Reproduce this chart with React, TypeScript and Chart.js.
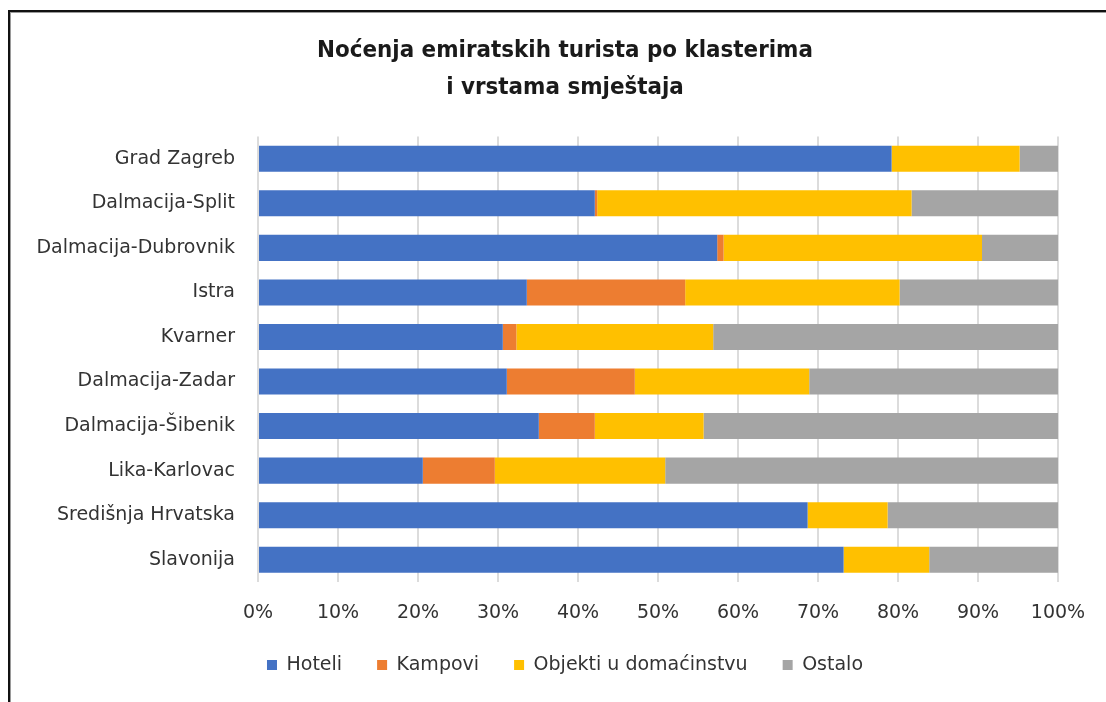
import React, { useEffect, useRef } from 'react';
import { Chart, registerables } from 'chart.js';

Chart.register(...registerables);

const categories = [
  'Grad Zagreb',
  'Dalmacija-Split',
  'Dalmacija-Dubrovnik',
  'Istra',
  'Kvarner',
  'Dalmacija-Zadar',
  'Dalmacija-Šibenik',
  'Lika-Karlovac',
  'Središnja Hrvatska',
  'Slavonija',
];
const hoteli = [79.2, 42.1, 57.4, 33.6, 30.6, 31.1, 35.1, 20.6, 68.7, 73.2];
const kampovi = [0, 0.3, 0.8, 19.8, 1.7, 16.0, 7.0, 9.0, 0, 0];
const objekti = [16.0, 39.3, 32.3, 26.8, 24.6, 21.8, 13.6, 21.3, 10.0, 10.7];
const ostalo = [4.8, 18.3, 9.5, 19.8, 43.1, 31.1, 44.3, 49.1, 21.3, 16.1];
const seriesNames = ['Hoteli', 'Kampovi', 'Objekti u domaćinstvu', 'Ostalo'];
const seriesColors = ['#4472C4', '#ED7D31', '#FFC000', '#A5A5A5'];
const titleLines = ['Noćenja emiratskih turista po klasterima', 'i vrstama smještaja'];
const xTickStep = 10;
const xMin = 0;
const xMax = 100;

function pickFamily(cands: string[], weight: string): string {
  const c = document.createElement('canvas').getContext('2d');
  if (!c) return 'sans-serif';
  const sample = titleLines[0];
  for (const f of cands) {
    c.font = `${weight} 30px monospace`;
    const a = c.measureText(sample).width;
    c.font = `${weight} 30px "${f}", monospace`;
    const b = c.measureText(sample).width;
    if (Math.abs(a - b) > 0.5) return f;
  }
  return 'sans-serif';
}

const framePlugin = {
  id: 'frame',
  beforeDraw(chart: any) {
    const ctx = chart.ctx;
    ctx.save();
    ctx.fillStyle = '#ffffff';
    ctx.fillRect(0, 0, chart.width, chart.height);
    ctx.fillStyle = '#111111';
    ctx.fillRect(8, 10, 2, chart.height - 10);
    ctx.fillRect(8, 10, chart.width - 8, 2);
    ctx.fillStyle = '#9a9a9a';
    ctx.fillRect(10, 12, 1, chart.height - 12);
    ctx.fillRect(10, 12, chart.width - 10, 1);
    ctx.restore();
  },
};

// Centre title and legend on the whole chart frame (like the source) instead of the padded area.
const centerShiftPlugin = {
  id: 'centerShift',
  afterLayout(chart: any) {
    const shift = 60;
    if (chart.titleBlock) chart.titleBlock.left += shift;
    if (chart.legend) chart.legend.left += shift;
  },
};

export default function App() {
  const ref = useRef<HTMLCanvasElement | null>(null);

  useEffect(() => {
    const canvas = ref.current;
    if (!canvas) return;
    const labelFamily = 'DejaVu Sans';
    const titleFamily = pickFamily(['Liberation Sans Narrow', 'DejaVu Sans Condensed'], 'bold');
    const m = document.createElement('canvas').getContext('2d')!;
    m.font = `bold 30px "${titleFamily}"`;
    const w = m.measureText(titleLines[0]).width;
    const titleSize = Math.max(18, Math.min(34, (30 * 496) / w));

    const chart = new Chart(canvas, {
      type: 'bar',
      data: {
        labels: categories,
        datasets: [hoteli, kampovi, objekti, ostalo].map((d, i) => ({
          label: seriesNames[i],
          data: d,
          backgroundColor: seriesColors[i],
          borderWidth: 0,
          barPercentage: 26 / 44.5,
          categoryPercentage: 1,
        })),
      },
      options: {
        indexAxis: 'y',
        responsive: false,
        animation: false,
        devicePixelRatio: 1,
        layout: { padding: { left: 12, right: 48, top: 32, bottom: 17.5 } },
        plugins: {
          title: {
            display: true,
            text: titleLines,
            color: '#1a1a1a',
            font: { family: `"${titleFamily}"`, size: titleSize, weight: 'bold', lineHeight: `${37}px` as any },
            padding: { top: 0, bottom: 30.5 },
          },
          legend: {
            position: 'bottom',
            labels: {
              boxWidth: 10,
              boxHeight: 10,
              padding: 35,
              color: '#333333',
              font: { family: labelFamily, size: 19 },
            },
          },
          tooltip: { enabled: false },
        },
        scales: {
          x: {
            stacked: true,
            min: xMin,
            max: xMax,
            ticks: {
              stepSize: xTickStep,
              callback: (v: any) => `${v}%`,
              color: '#333333',
              font: { family: labelFamily, size: 19 },
              padding: 20,
              maxRotation: 0,
            },
            grid: { color: '#dcdcdc', lineWidth: 2, drawTicks: false },
            border: { display: false },
            afterFit: (s: any) => {
              s.height = 38.5;
            },
          },
          y: {
            stacked: true,
            ticks: {
              color: '#333333',
              font: { family: labelFamily, size: 19 },
              padding: 23,
              autoSkip: false,
            },
            grid: { display: false, drawTicks: false },
            border: { display: false },
            afterFit: (s: any) => {
              s.width = 246;
            },
          },
        },
      },
      plugins: [framePlugin, centerShiftPlugin],
    });
    return () => chart.destroy();
  }, []);

  return (
    <div style={{ position: 'fixed', left: 0, top: 0, width: 1106, height: 702, overflow: 'hidden' }}>
      <canvas ref={ref} width={1106} height={702} style={{ display: 'block' }} />
    </div>
  );
}
